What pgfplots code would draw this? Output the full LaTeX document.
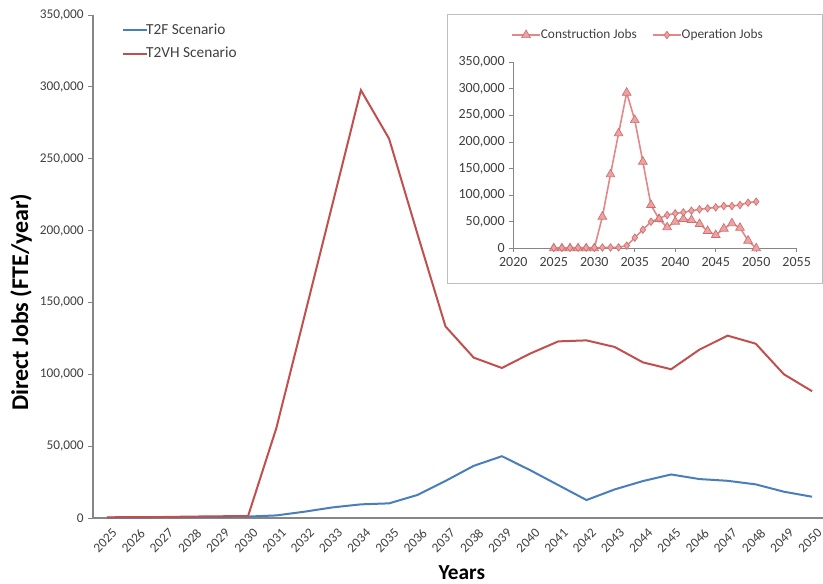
\documentclass[border=0pt]{standalone}
\usepackage{pgfplots}
\pgfplotsset{compat=1.18}
\usepackage{fontspec}
\setmainfont{Carlito}

\definecolor{tblue}{RGB}{74,126,187}
\definecolor{tred}{RGB}{192,80,77}
\definecolor{axgray}{RGB}{134,134,134}
\definecolor{txtgray}{RGB}{64,64,64}
\definecolor{pinkline}{RGB}{226,136,136}
\definecolor{pinkfill}{RGB}{236,162,162}
\definecolor{pinkedge}{RGB}{206,110,110}
\definecolor{boxgray}{RGB}{190,190,190}

\begin{document}
\begin{tikzpicture}
\useasboundingbox (0,0) rectangle (617.25pt,437.25pt);
% ---------------- main chart ----------------
\begin{axis}[
  at={(69.75pt,48.75pt)}, anchor=south west,
  scale only axis, width=549.9pt, height=377.25pt,
  xmin=2024.5, xmax=2050.5, ymin=0, ymax=350000,
  axis lines=left,
  axis line style={draw=axgray, line width=0.8pt, -},
  xtick={2025,...,2050},
  minor x tick num=1,
  major x tick style={draw=none},
  ytick={0,50000,...,350000},
  tick style={draw=axgray, line width=0.6pt},
  tick align=outside, major tick length=3.5pt, minor tick length=3.5pt,
  scaled y ticks=false,
  /pgf/number format/assume math mode=true,
  yticklabel style={font=\fontsize{10}{12}\selectfont, text=txtgray, /pgf/number format/fixed, /pgf/number format/1000 sep={,}},
  xticklabel style={rotate=45, anchor=east, xshift=3pt, yshift=-8.5pt,
    font=\fontsize{10}{12}\selectfont, text=txtgray, /pgf/number format/fixed, /pgf/number format/1000 sep={}},
  ylabel={Direct Jobs (FTE/year)},
  ylabel style={at={(axis description cs:-0.098,0.429)}, anchor=center, font=\fontsize{18}{21}\selectfont\bfseries},
  xlabel={Years},
  xlabel style={at={(axis description cs:0.503,-0.109)}, anchor=center, font=\fontsize{16}{19}\selectfont\bfseries},
  legend style={at={(0.034,0.993)}, anchor=north west, draw=none, fill=none,
    font=\fontsize{11.5}{13}\selectfont, text=txtgray, row sep=4pt,
    nodes={inner xsep=2pt},
    /tikz/every odd column/.append style={column sep=-3.5pt}},
  legend cell align=left,
  legend image code/.code={\draw[#1] (0pt,0pt) -- (18pt,0pt);},
]
\addplot[tblue, line width=1.5pt] coordinates {
 (2025,200) (2026,300) (2027,400) (2028,600) (2029,800) (2030,1000)
 (2031,1800) (2032,4400) (2033,7400) (2034,9500) (2035,10200) (2036,16000)
 (2037,25800) (2038,36300) (2039,43000) (2040,33300) (2041,22900) (2042,12500)
 (2043,19900) (2044,25700) (2045,30300) (2046,27100) (2047,25900) (2048,23400)
 (2049,18300) (2050,14800)};
\addlegendentry{T2F Scenario}
\addplot[tred, line width=1.5pt] coordinates {
 (2025,500) (2026,600) (2027,700) (2028,1000) (2029,1200) (2030,1400)
 (2031,62500) (2032,140500) (2033,219000) (2034,297700) (2035,263900) (2036,198000)
 (2037,133300) (2038,111600) (2039,104400) (2040,114400) (2041,122900) (2042,123600)
 (2043,119000) (2044,108300) (2045,103500) (2046,117100) (2047,126900) (2048,121300)
 (2049,100000) (2050,88200)};
\addlegendentry{T2VH Scenario}
\end{axis}

% ---------------- inset chart ----------------
\draw[boxgray, fill=white, line width=0.6pt] (335.25pt,225pt) rectangle (616.5pt,426.75pt);
\begin{axis}[
  at={(385pt,251pt)}, anchor=south west,
  scale only axis, width=212.5pt, height=139.7pt,
  xmin=2020, xmax=2055, ymin=0, ymax=350000,
  axis lines=left,
  axis line style={draw=axgray, line width=0.6pt, -},
  xtick={2020,2025,...,2055},
  ytick={0,50000,...,350000},
  tick style={draw=axgray, line width=0.5pt},
  tick align=outside, major tick length=3pt,
  scaled y ticks=false,
  /pgf/number format/assume math mode=true,
  yticklabel style={font=\fontsize{10.5}{12}\selectfont, text=txtgray, /pgf/number format/fixed, /pgf/number format/1000 sep={,}},
  xticklabel style={font=\fontsize{10.5}{12}\selectfont, text=txtgray, /pgf/number format/fixed, /pgf/number format/1000 sep={}},
  legend columns=2,
  legend style={at={(0.44,1.145)}, anchor=center, draw=none, fill=none,
    font=\fontsize{10}{12}\selectfont, text=txtgray,
    nodes={inner xsep=1.5pt},
    /tikz/every odd column/.append style={column sep=-1.5pt},
    /tikz/every even column/.append style={column sep=10pt}},
  legend image code/.code={\draw[mark repeat=2,mark phase=2,#1] plot coordinates {(0pt,0pt) (10.5pt,0pt) (21pt,0pt)};},
]
\addplot[pinkline, line width=1.2pt, mark=triangle*, mark size=3.8pt,
  mark options={fill=pinkfill, draw=pinkedge, line width=0.5pt}] coordinates {
 (2025,0) (2026,0) (2027,0) (2028,0) (2029,0) (2030,0)
 (2031,59500) (2032,139000) (2033,216000) (2034,292400) (2035,241000) (2036,162800)
 (2037,81400) (2038,55100) (2039,39400) (2040,50100) (2041,55100) (2042,53200)
 (2043,45700) (2044,32600) (2045,25000) (2046,37000) (2047,47000) (2048,38500)
 (2049,14400) (2050,0)};
\addlegendentry{Construction Jobs}
\addplot[pinkline, line width=1.2pt, mark=diamond*, mark size=2.8pt,
  mark options={fill=pinkfill, draw=pinkedge, line width=0.5pt}] coordinates {
 (2025,1000) (2026,1000) (2027,1000) (2028,1200) (2029,1300) (2030,1400)
 (2031,1500) (2032,1600) (2033,1800) (2034,5000) (2035,20000) (2036,35000)
 (2037,50000) (2038,56000) (2039,62600) (2040,65700) (2041,67600) (2042,70700)
 (2043,73200) (2044,75100) (2045,77000) (2046,79500) (2047,79500) (2048,81400)
 (2049,85800) (2050,87700)};
\addlegendentry{Operation Jobs}
\end{axis}
\end{tikzpicture}
\end{document}
